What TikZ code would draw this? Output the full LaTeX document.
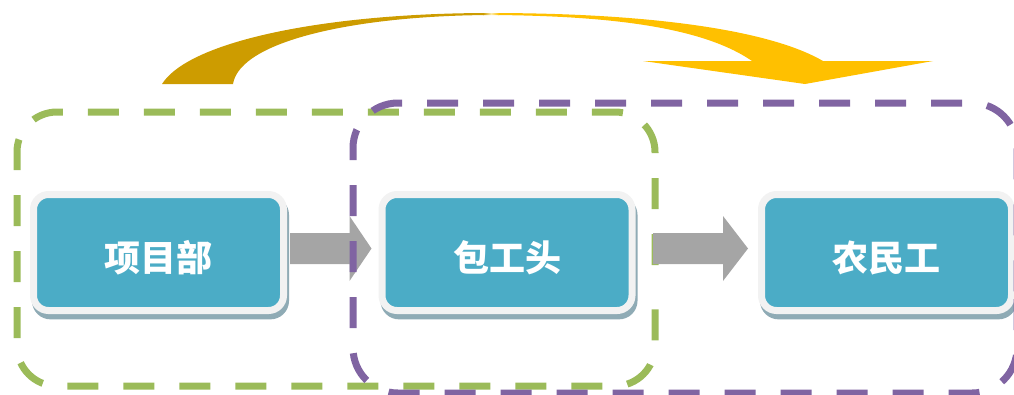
\documentclass[tikz,border=0pt]{standalone}
\usepackage{fontspec}
\newfontfamily\cjk{Noto Sans CJK SC}
\usetikzlibrary{calc}
\definecolor{gdark}{RGB}{205,156,0}
\definecolor{glight}{RGB}{255,236,170}
\definecolor{goldc}{RGB}{255,192,0}
\definecolor{greendash}{RGB}{155,187,89}
\definecolor{purpledash}{RGB}{128,100,162}
\definecolor{boxblue}{RGB}{75,172,198}
\definecolor{framec}{RGB}{242,242,242}
\definecolor{shadowc}{RGB}{143,171,181}
\definecolor{greyarr}{RGB}{165,165,165}
\tikzset{
  groupbox/.style={line width=5.25pt, rounded corners=30pt, dash pattern=on 23.25pt off 18.75pt},
  stagebox/.style={rectangle, rounded corners=11.25pt, fill=boxblue, draw=framec, line width=5.25pt,
    minimum width=187.5pt, minimum height=87pt, inner sep=0pt, outer sep=0pt,
    text=white, font=\cjk\bfseries\fontsize{27pt}{27pt}\selectfont,
    text height=28pt, text depth=0pt,
    preaction={fill=shadowc, draw=shadowc, transform canvas={xshift=1.5pt, yshift=-4pt}}},
  blockarrow/.style={fill=greyarr}
}
\begin{document}
\begin{tikzpicture}[x=0.75pt, y=-0.75pt]
\useasboundingbox (0,0) rectangle (1014,394);
\clip (0,0) rectangle (1014,394);

% curved arrow on top
\begin{scope}
  \clip (162,84) .. controls (190,40) and (330,13) .. (490,13)
        .. controls (650,13) and (770,30) .. (823,61)
        -- (933,61) -- (805,84) -- (643,61) -- (752,61)
        .. controls (700,25) and (600,16) .. (495,15)
        .. controls (360,15) and (240,40) .. (233,84) -- cycle;
  \fill[gdark] (150,0) rectangle (484,100);
  \fill[goldc] (498,0) rectangle (950,100);
  \shade[left color=gdark, right color=goldc, middle color=glight] (483,0) rectangle (499,100);
\end{scope}

% green group
\draw[groupbox, greendash, dash phase=25.95pt]
  (655,248) -- (655,386) -- (17,386) -- (17,112) -- (655,112) -- cycle;

% stage boxes
\node[stagebox] (n1) at (158.5,252.5) {项目部};
\node[stagebox] (n2) at (507,252.5) {包工头};
\node[stagebox] (n3) at (886.5,252.5) {农民工};

% grey block arrows
\coordinate (a1s) at ($(n1.east)+(6.5,-4)$);
\coordinate (a1t) at ($(n2.west)+(-10.5,-4)$);
\fill[blockarrow] ($(a1s)+(0,-15.5)$) -- ($(a1t)+(-22,-15.5)$) -- ($(a1t)+(-22,-32.5)$) -- (a1t)
  -- ($(a1t)+(-22,32.5)$) -- ($(a1t)+(-22,15.5)$) -- ($(a1s)+(0,15.5)$) -- cycle;
\coordinate (a2s) at ($(n2.east)+(21,-4)$);
\coordinate (a2t) at ($(n3.west)+(-13.5,-4)$);
\fill[blockarrow] ($(a2s)+(0,-15.5)$) -- ($(a2t)+(-25,-15.5)$) -- ($(a2t)+(-25,-32.5)$) -- (a2t)
  -- ($(a2t)+(-25,32.5)$) -- ($(a2t)+(-25,15.5)$) -- ($(a2s)+(0,15.5)$) -- cycle;

% purple group
\draw[groupbox, purpledash, rounded corners=33.75pt, dash phase=37.4pt]
  (1017,248) -- (1017,393) -- (353,393) -- (353,103) -- (1017,103) -- cycle;
\end{tikzpicture}
\end{document}
